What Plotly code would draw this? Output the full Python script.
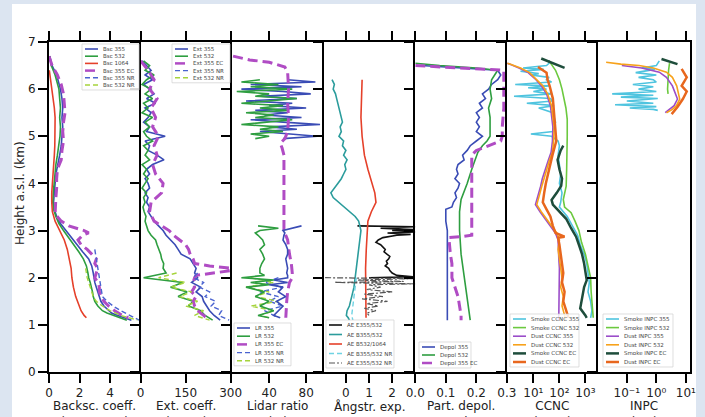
import plotly.graph_objects as go
from plotly.subplots import make_subplots

# ---------------- data (heights in km a.s.l., values in panel units) ----------------
# Panel 1: backscatter coefficient (Mm-1 sr-1)
BSC_H = [6.7, 6.5, 6.3, 6.1, 6.0, 5.8, 5.6, 5.4, 5.2, 5.0, 4.8, 4.6, 4.4, 4.2, 4.0, 3.8, 3.6, 3.45, 3.3, 3.15,
         3.0, 2.85, 2.7, 2.55, 2.4, 2.25, 2.1, 2.0, 1.9, 1.8, 1.7, 1.6, 1.5, 1.4, 1.3, 1.25, 1.2, 1.15, 1.1]
BSC355 = [0.05, 0.2, 0.5, 0.7, 0.75, 0.85, 0.9, 0.85, 0.9, 0.85, 0.8, 0.7, 0.55, 0.45, 0.4, 0.35, 0.3, 0.35, 0.5, 0.75,
          1.1, 1.45, 1.8, 2.2, 2.6, 2.8, 2.9, 2.95, 3.0, 3.1, 3.2, 3.3, 3.4, 3.6, 3.9, 4.1, 4.5, 4.9, 5.4]
BSC532 = [0.05, 0.15, 0.4, 0.6, 0.65, 0.7, 0.75, 0.7, 0.75, 0.72, 0.65, 0.55, 0.45, 0.38, 0.33, 0.28, 0.25, 0.3, 0.45, 0.65,
          0.95, 1.3, 1.6, 1.95, 2.25, 2.45, 2.55, 2.6, 2.7, 2.8, 2.85, 2.9, 3.0, 3.2, 3.5, 3.8, 4.2, 4.6, 5.1]
BSC1064_H = [6.4, 6.2, 6.0, 5.8, 5.6, 5.4, 5.2, 5.0, 4.8, 4.6, 4.4, 4.2, 4.0, 3.8, 3.6, 3.4, 3.2, 3.0, 2.8, 2.6,
             2.4, 2.2, 2.0, 1.8, 1.6, 1.4, 1.3, 1.2, 1.15]
BSC1064 = [0.02, 0.1, 0.2, 0.3, 0.35, 0.4, 0.4, 0.4, 0.38, 0.35, 0.3, 0.25, 0.2, 0.18, 0.18, 0.22, 0.4, 0.7, 1.0, 1.2,
           1.35, 1.45, 1.5, 1.6, 1.75, 1.95, 2.1, 2.3, 2.45]
BSCEC_H = [6.7, 6.5, 6.3, 6.1, 5.9, 5.7, 5.5, 5.3, 5.1, 4.9, 4.7, 4.5, 4.3, 4.1, 3.9, 3.7, 3.5, 3.35, 3.2, 3.1,
           3.0, 2.95, 2.9, 2.8, 2.7, 2.6, 2.5, 2.4, 2.3, 2.2, 2.1, 2.0, 1.9, 1.8, 1.7, 1.6, 1.5, 1.4, 1.3, 1.2, 1.15]
BSC355EC = [0.0, 0.2, 0.55, 0.8, 0.95, 1.0, 1.05, 0.95, 0.9, 0.95, 0.85, 0.8, 0.55, 0.5, 0.5, 0.45, 0.4, 0.4, 0.8, 1.3,
            2.3, 2.6, 2.2, 1.9, 2.1, 2.5, 2.8, 3.1, 3.0, 3.2, 3.1, 3.0, 3.2, 3.3, 3.3, 3.4, 3.6, 3.9, 4.3, 4.8, 5.2]
BSC355NR_H = [2.6, 2.4, 2.2, 2.0, 1.8, 1.6, 1.5, 1.4, 1.3, 1.2, 1.1]
BSC355NR = [3.0, 3.1, 3.2, 3.3, 3.4, 3.5, 3.8, 4.2, 4.7, 5.3, 5.9]
BSC532NR_H = [2.2, 2.0, 1.8, 1.6, 1.5, 1.4, 1.3, 1.2, 1.1]
BSC532NR = [2.4, 2.5, 2.7, 2.9, 3.1, 3.5, 4.0, 4.7, 5.8]

# Panel 2: extinction coefficient (Mm-1)
EXT_H = [6.6, 6.5, 6.4, 6.3, 6.2, 6.1, 6.0, 5.9, 5.8, 5.7, 5.6, 5.5, 5.4, 5.3, 5.2, 5.1, 5.0, 4.9, 4.8, 4.7,
         4.6, 4.5, 4.4, 4.3, 4.2, 4.1, 4.0, 3.9, 3.8, 3.7, 3.6, 3.5, 3.4, 3.3, 3.2, 3.1, 3.0, 2.9, 2.8, 2.7,
         2.6, 2.5, 2.4, 2.3, 2.2, 2.1, 2.0, 1.9, 1.8, 1.7, 1.6, 1.5, 1.4, 1.3, 1.2, 1.1]
EXT355 = [5, 20, 35, 15, 40, 10, 30, 45, 20, 50, 15, 35, 25, 10, 30, 20, 82, 15, 30, 25,
          55, 78, 40, 20, 30, 15, 25, 30, 15, 25, 20, 30, 25, 35, 45, 60, 75, 85, 100, 115,
          125, 135, 165, 175, 185, 180, 190, 170, 200, 185, 205, 210, 220, 230, 245, 265]
EXT532 = [10, 30, 15, 45, 20, 5, 35, 15, 40, 10, 25, 5, 40, 15, 30, 10, 20, 40, 10, 25,
          15, 30, 5, 20, 10, 25, 15, 5, 20, 10, 15, 8, 12, 18, 15, 20, 25, 35, 50, 55,
          62, 67, 70, 77, 75, 85, 10, 140, 100, 155, 125, 175, 160, 200, 215, 240]
EXTEC_H = [6.6, 6.4, 6.2, 6.0, 5.8, 5.6, 5.4, 5.2, 5.0, 4.8, 4.6, 4.4, 4.2, 4.0, 3.8, 3.6, 3.4, 3.2, 3.0, 2.9,
           2.8, 2.7, 2.6, 2.5, 2.4, 2.3, 2.25, 2.2, 2.15, 2.1, 2.05, 2.0, 1.9, 1.8, 1.7, 1.6, 1.5, 1.4, 1.3, 1.2, 1.15]
EXT355EC = [0, 25, 45, 30, 55, 35, 50, 40, 60, 45, 55, 40, 50, 75, 70, 35, 30, 45, 95, 110,
            130, 150, 160, 165, 175, 180, 230, 300, 300, 250, 185, 180, 175, 180, 170, 185, 175, 180, 190, 210, 220]
EXTNR_H = [2.1, 2.0, 1.9, 1.8, 1.7, 1.6, 1.5, 1.4, 1.3, 1.2, 1.1]
EXT355NR = [190, 175, 210, 195, 230, 215, 250, 235, 270, 260, 295]
EXT532NR = [120, 60, 150, 100, 170, 130, 190, 150, 210, 180, 230]

# Panel 3: lidar ratio (sr)
LRU_H = [6.2, 6.15, 6.1, 6.05, 6.0, 5.95, 5.9, 5.85, 5.8, 5.75, 5.7, 5.65, 5.6, 5.55, 5.5, 5.45, 5.4, 5.35, 5.3, 5.25,
         5.2, 5.15, 5.1, 5.05, 5.0, 4.95]
LR355U = [60, 90, 20, 75, 10, 55, 85, 30, 70, 15, 65, 40, 80, 25, 60, 35, 75, 20, 55, 95, 40, 70, 30, 60, 92, 55]
LR532U = [30, 10, 50, 20, 65, 5, 40, 25, 70, 35, 10, 55, 30, 60, 15, 45, 25, 65, 35, 10, 50, 30, 55, 20, 40, 25]
LRL_H = [3.1, 3.05, 3.0, 2.95, 2.9, 2.8, 2.7, 2.6, 2.5, 2.4, 2.3, 2.2, 2.1, 2.05, 2.0, 1.95, 1.9, 1.85, 1.8, 1.7,
         1.6, 1.5, 1.4, 1.3, 1.2, 1.15]
LR355L = [75, 65, 55, 57, 56, 55, 58, 60, 60, 58, 59, 60, 59, 60, 60, 45, 60, 40, 55, 50, 58, 48, 55, 50, 45, 52]
LR532L = [28, 50, 30, 25, 28, 33, 35, 30, 33, 35, 32, 30, 30, 35, 10, 45, 20, 40, 15, 35, 25, 40, 30, 45, 28, 40]
LREC_H = [6.7, 6.62, 6.57, 6.47, 6.36, 6.0, 5.7, 5.4, 5.1, 4.95, 4.85, 4.75, 4.6, 4.0, 3.5, 3.0, 2.9, 2.8, 2.5, 2.3,
          2.1, 2.0, 1.9, 1.7, 1.5, 1.3, 1.15]
LR355EC = [1, 19, 40, 57, 60, 61, 60, 61, 60, 57, 52, 54, 56, 56, 56, 56, 58, 60, 62, 64, 65, 65, 62, 60, 59, 58, 58]
LRNR_H = [2.0, 1.9, 1.8, 1.7, 1.6, 1.5, 1.4, 1.3, 1.2, 1.15]
LR355NR = [50, 35, 55, 30, 50, 40, 55, 35, 45, 50]
LR532NR = [20, 45, 15, 40, 25, 50, 20, 45, 30, 40]

# Panel 4: Angstrom exponents
AEE_H = [3.1, 3.08, 3.05, 3.02, 3.0, 2.97, 2.95, 2.92, 2.9, 2.85, 2.8, 2.75, 2.7, 2.65, 2.6, 2.55, 2.5, 2.45, 2.4, 2.35,
         2.3, 2.25, 2.2, 2.15, 2.1, 2.05, 2.02, 2.0]
AE_E355_532 = [0.5, 3.0, 1.5, 2.9, 2.0, 3.0, 1.8, 2.8, 2.2, 1.6, 1.4, 1.3, 1.5, 1.6, 1.7, 1.65, 1.8, 1.9, 1.85, 1.75,
               1.8, 1.7, 1.85, 1.9, 2.0, 2.2, 2.9, 1.0]
AEB_H = [6.2, 6.1, 6.0, 5.9, 5.8, 5.7, 5.6, 5.5, 5.4, 5.3, 5.2, 5.1, 5.0, 4.9, 4.8, 4.7, 4.6, 4.5, 4.4, 4.3,
         4.2, 4.1, 4.0, 3.9, 3.8, 3.7, 3.6, 3.5, 3.4, 3.3, 3.2, 3.1, 3.0, 2.8, 2.6, 2.4, 2.2, 2.0, 1.8, 1.6,
         1.4, 1.3, 1.2, 1.15, 1.1]
AE_B355_532 = [-0.6, -0.5, -0.55, -0.45, -0.4, -0.35, -0.3, -0.25, -0.2, -0.15, -0.25, -0.2, -0.3, -0.1, -0.15, 0.0,
               -0.1, 0.05, -0.05, 0.0, -0.1, -0.2, -0.35, -0.5, -0.65, -0.55, -0.3, -0.1, 0.2, 0.4,
               0.55, 0.6, 0.65, 0.6, 0.55, 0.5, 0.45, 0.42, 0.35, 0.25, 0.15, 0.05, 0.02, 0.1, 0.15]
AER_H = [6.2, 5.8, 5.4, 5.0, 4.6, 4.3, 4.0, 3.8, 3.6, 3.4, 3.2, 3.0, 2.6, 2.2, 1.8, 1.4, 1.15]
AE_B532_1064 = [0.7, 0.67, 0.65, 0.7, 0.8, 0.95, 1.15, 1.25, 1.3, 1.1, 0.95, 0.92, 0.88, 0.85, 0.85, 0.88, 0.87]
AEBNR_H = [2.0, 1.8, 1.6, 1.4, 1.2, 1.1]
AE_B355_532_NR = [0.45, 0.4, 0.35, 0.3, 0.25, 0.3]
AEENR_H = [2.0, 1.98, 1.95, 1.92, 1.9, 1.87, 1.85, 1.8, 1.75, 1.7, 1.65, 1.6, 1.55, 1.5, 1.45, 1.4, 1.35, 1.3, 1.25, 1.2]
AE_E355_532_NR = [-0.9, 2.9, 0.5, 2.5, -0.5, 3.0, 1.0, 1.5, 0.9, 2.0, 0.8, 1.6, 0.7, 1.8, 0.9, 1.4, 0.8, 1.3, 0.9, 1.0]

# Panel 5: particle depolarization ratio
DEP355_H = [6.5, 6.45, 6.4, 6.3, 6.2, 6.1, 6.0, 5.9, 5.8, 5.7, 5.6, 5.5, 5.4, 5.3, 5.2, 5.1, 5.0, 4.9, 4.8, 4.7,
            4.6, 4.5, 4.4, 4.3, 4.2, 4.1, 4.0, 3.9, 3.8, 3.7, 3.6, 3.5, 3.45, 3.4, 3.2, 3.0, 2.5, 2.0, 1.5, 1.1]
DEP355 = [0.02, 0.15, 0.27, 0.28, 0.27, 0.25, 0.24, 0.22, 0.23, 0.21, 0.22, 0.2, 0.21, 0.2, 0.21, 0.2, 0.22, 0.2, 0.18, 0.17,
          0.155, 0.16, 0.14, 0.135, 0.14, 0.13, 0.145, 0.14, 0.13, 0.135, 0.125, 0.12, 0.1, 0.1, 0.1, 0.105, 0.105, 0.105,
          0.103, 0.105]
DEP532_H = [6.55, 6.5, 6.45, 6.4, 6.3, 6.2, 6.0, 5.8, 5.6, 5.4, 5.2, 5.0, 4.9, 4.8, 4.66, 4.5, 4.3, 4.0, 3.66, 3.4,
            3.0, 2.5, 2.0, 1.6, 1.2, 1.1]
DEP532 = [0.0, 0.08, 0.2, 0.27, 0.26, 0.25, 0.245, 0.25, 0.24, 0.245, 0.245, 0.245, 0.235, 0.22, 0.205, 0.195, 0.185,
          0.17, 0.15, 0.145, 0.145, 0.15, 0.16, 0.17, 0.178, 0.18]
DEPEC_H = [6.5, 6.45, 6.4, 6.0, 5.6, 5.2, 5.0, 4.9, 4.85, 4.8, 4.7, 4.6, 4.0, 3.5, 2.9, 2.87, 2.85, 2.5, 2.3, 2.0,
           1.8, 1.6, 1.4, 1.2, 1.1]
DEP355EC = [0.0, 0.15, 0.29, 0.29, 0.29, 0.285, 0.285, 0.28, 0.26, 0.24, 0.2, 0.185, 0.185, 0.185, 0.185, 0.15, 0.11,
            0.115, 0.12, 0.12, 0.13, 0.14, 0.145, 0.15, 0.15]

# Panel 6: CCNC (cm-3)
SC355_H = [6.62, 6.55, 6.5, 6.45, 6.42, 6.38, 6.33, 6.3, 6.25, 6.2, 6.15, 6.1, 6.07, 6.03, 6.0, 5.95, 5.9, 5.85, 5.8, 5.75,
           5.7, 5.65, 5.6, 5.5, 5.4, 5.3, 5.2, 5.1, 5.05, 5.0, 4.9, 4.8, 4.6, 4.4, 4.2, 4.0, 3.8, 3.6, 3.5, 3.3,
           3.1, 2.9, 2.7, 2.5, 2.3, 2.1, 1.9, 1.7, 1.5, 1.3, 1.15]
SMOKE_CCNC_355 = [40, 40, 32, 4, 25, 3.2, 16, 8, 40, 32, 50, 2, 40, 6.3, 32, 10, 50, 1.8, 45, 56,
                  5.6, 63, 16, 56, 63, 71, 63, 56, 8, 50, 89, 100, 89, 100, 112, 100, 126, 112, 100, 200,
                  316, 501, 631, 891, 1122, 1259, 1413, 1259, 1585, 1778, 1585]
SC532_H = [6.6, 6.4, 6.2, 6.0, 5.6, 5.36, 5.0, 4.66, 4.3, 3.94, 3.66, 3.5, 3.38, 3.2, 3.0, 2.75, 2.5, 2.25, 2.0, 1.7,
           1.45, 1.15]
SMOKE_CCNC_532 = [40, 71, 100, 126, 178, 200, 200, 200, 190, 182, 141, 158, 282, 398, 562, 708, 1000, 1259, 1585, 1660,
                  1778, 1995]
DC_H = [6.55, 6.45, 6.35, 6.2, 6.07, 5.9, 5.65, 5.4, 5.2, 4.9, 4.66, 4.5, 4.3, 4.1, 3.94, 3.8, 3.66, 3.55, 3.4, 3.25,
        3.1, 2.95, 2.8, 2.6, 2.4, 2.2, 2.0, 1.8, 1.6, 1.4, 1.2, 1.1]
DUST_CCNC_355 = [1, 2.8, 6.3, 12.6, 20, 32, 45, 50, 56, 54, 48, 38, 28, 22, 19, 16, 13.5, 12, 18, 28,
                 45, 70, 89, 89, 95, 100, 100, 95, 100, 100, 95, 89]
DUST_CCNC_532 = [1, 3.2, 7.1, 14, 23, 35, 50, 56, 63, 60, 54, 42, 32, 25, 21, 18, 15, 13.5, 20, 32,
                 50, 79, 100, 89, 100, 112, 126, 112, 141, 126, 158, 178]
SCEC_H = [6.65, 6.45, 4.9, 4.8, 4.7, 4.5, 4.3, 4.1, 3.95, 3.8, 3.65, 3.55, 3.4, 3.25, 3.05, 2.87, 2.7, 2.5, 2.3, 2.1,
          1.95, 1.8, 1.65, 1.5, 1.35, 1.2, 1.15]
SMOKE_CCNC_EC = [20, 158, None, 141, 112, 85, 100, 126, 117, 79, 50, 56, 100, 182, 282, 437, 562, 741, 891, 1000,
                 1122, 891, 794, 741, 631, 1000, 1122]
DCEC_H = [6.47, 6.35, 6.2, 6.07, 5.8, 5.5, 5.2, 4.9, 4.6, 4.3, 4.0, 3.8, 3.6, 3.45, 3.3, 3.1, 2.95, 2.87, 2.85, 2.7,
          2.5, 2.3, 2.1, 1.9, 1.7, 1.5, 1.3, 1.15]
DUST_CCNC_EC = [15, 32, 35, 42, 56, 63, 71, 76, 54, 40, 30, 26, 23, 32, 45, 56, 71, 158, 89, 100,
                112, 126, 141, 126, 158, 141, 178, 224]

# Panel 7: INPC (L-1)
SI355_H = [6.6, 6.5, 6.45, 6.42, 6.35, 6.3, 6.25, 6.2, 6.15, 6.1, 6.05, 6.0, 5.95, 5.9, 5.87, 5.83, 5.8, 5.75, 5.7, 5.67,
           5.63, 5.6, 5.57, 5.55]
SMOKE_INPC_355 = [1.26, 1.0, 0.32, 0.89, 0.2, 1.0, 0.25, 0.79, 1.0, 0.16, 0.79, 0.25, 1.0, 0.032, 0.79, 0.063, 1.12, 0.1,
                  0.79, 0.04, 1.0, 0.126, 0.79, 1.12]
SI532_H = [6.55, 6.4, 6.2, 6.0, 5.9]
SMOKE_INPC_532 = [2.8, 2.6, 2.5, 2.4, 2.5]
DI355_H = [6.5, 6.45, 6.36, 6.25, 6.07, 5.9, 5.79, 5.65, 5.57, 5.5]
DUST_INPC_355 = [0.068, 0.32, 1.26, 2.2, 3.5, 4.5, 5.2, 4.0, 2.8, 2.0]
DI532_H = [6.57, 6.53, 6.5, 6.45, 6.36, 6.25, 6.07, 5.9, 5.79, 5.65, 5.57, 5.5]
DUST_INPC_532 = [0.02, 0.063, 0.26, 0.79, 2.2, 3.5, 4.9, 5.6, 6.2, 4.8, 3.5, 2.2]
SIEC_H = [6.64, 6.53]
SMOKE_INPC_EC = [1.5, 5.2]
DIEC_H = [6.43, 6.25, 6.07, 5.95, 5.79, 5.62, 5.47]
DUST_INPC_EC = [7.2, 10.7, 7.2, 10.7, 7.9, 5.2, 3.3]

# ---------------- styles ----------------
STYLE = {
    "blue": dict(color="#3a4cb5", width=1.6),
    "green": dict(color="#2e9e40", width=1.6),
    "red": dict(color="#e5402a", width=1.6),
    "ec": dict(color="#b04cc4", width=3, dash="10px,5px"),
    "bnr": dict(color="#4a63d0", width=1.4, dash="5px,3px"),
    "gnr": dict(color="#a6d43c", width=1.4, dash="5px,3px"),
    "black": dict(color="#111111", width=1.6),
    "teal": dict(color="#2b9c9c", width=1.6),
    "cnr": dict(color="#6fd3e3", width=1.4, dash="5px,3px"),
    "knr": dict(color="#555555", width=1.2, dash="6px,2px,2px,2px"),
    "sc": dict(color="#4fc4df", width=1.6),
    "sg": dict(color="#6cc93f", width=1.6),
    "dp": dict(color="#9b4dc9", width=1.6),
    "do": dict(color="#f7a21b", width=1.6),
    "sec": dict(color="#1e4d3b", width=2.5),
    "dec": dict(color="#e8671e", width=2.5),
}

# (panel, legend label, heights, values, style, in legend)
SERIES = [
    (1, "Bsc 355", BSC_H, BSC355, "blue", True),
    (1, "Bsc 532", BSC_H, BSC532, "green", True),
    (1, "Bsc 1064", BSC1064_H, BSC1064, "red", True),
    (1, "Bsc 355 EC", BSCEC_H, BSC355EC, "ec", True),
    (1, "Bsc 355 NR", BSC355NR_H, BSC355NR, "bnr", True),
    (1, "Bsc 532 NR", BSC532NR_H, BSC532NR, "gnr", True),
    (2, "Ext 355", EXT_H, EXT355, "blue", True),
    (2, "Ext 532", EXT_H, EXT532, "green", True),
    (2, "Ext 355 EC", EXTEC_H, EXT355EC, "ec", True),
    (2, "Ext 355 NR", EXTNR_H, EXT355NR, "bnr", True),
    (2, "Ext 532 NR", EXTNR_H, EXT532NR, "gnr", True),
    (3, "LR 355", LRU_H, LR355U, "blue", True),
    (3, "LR 532", LRU_H, LR532U, "green", True),
    (3, "LR 355 EC", LREC_H, LR355EC, "ec", True),
    (3, "LR 355 NR", LRNR_H, LR355NR, "bnr", True),
    (3, "LR 532 NR", LRNR_H, LR532NR, "gnr", True),
    (3, "LR 355 low", LRL_H, LR355L, "blue", False),
    (3, "LR 532 low", LRL_H, LR532L, "green", False),
    (4, "AE E355/532", AEE_H, AE_E355_532, "black", True),
    (4, "AE B355/532", AEB_H, AE_B355_532, "teal", True),
    (4, "AE B532/1064", AER_H, AE_B532_1064, "red", True),
    (4, "AE B355/532 NR", AEBNR_H, AE_B355_532_NR, "cnr", True),
    (4, "AE E355/532 NR", AEENR_H, AE_E355_532_NR, "knr", True),
    (5, "Depol 355", DEP355_H, DEP355, "blue", True),
    (5, "Depol 532", DEP532_H, DEP532, "green", True),
    (5, "Depol 355 EC", DEPEC_H, DEP355EC, "ec", True),
    (6, "Smoke CCNC 355", SC355_H, SMOKE_CCNC_355, "sc", True),
    (6, "Smoke CCNC 532", SC532_H, SMOKE_CCNC_532, "sg", True),
    (6, "Dust CCNC 355", DC_H, DUST_CCNC_355, "dp", True),
    (6, "Dust CCNC 532", DC_H, DUST_CCNC_532, "do", True),
    (6, "Smoke CCNC EC", SCEC_H, SMOKE_CCNC_EC, "sec", True),
    (6, "Dust CCNC EC", DCEC_H, DUST_CCNC_EC, "dec", True),
    (7, "Smoke INPC 355", SI355_H, SMOKE_INPC_355, "sc", True),
    (7, "Smoke INPC 532", SI532_H, SMOKE_INPC_532, "sg", True),
    (7, "Dust INPC 355", DI355_H, DUST_INPC_355, "dp", True),
    (7, "Dust INPC 532", DI532_H, DUST_INPC_532, "do", True),
    (7, "Smoke INPC EC", SIEC_H, SMOKE_INPC_EC, "sec", True),
    (7, "Dust INPC EC", DIEC_H, DUST_INPC_EC, "dec", True),
]

XAXES = {
    1: dict(range=[0, 6], tickvals=[0, 2, 4], ticktext=["0", "2", "4"],
            title="Backsc. coeff.<br>(Mm⁻¹ sr⁻¹)"),
    2: dict(range=[0, 305], tickvals=[0, 150, 300], ticktext=["0", "150", "300"],
            title="Ext. coeff.<br>(Mm⁻¹)"),
    3: dict(range=[0, 99], tickvals=[40, 80], ticktext=["40", "80"], title="Lidar ratio<br>(sr)"),
    4: dict(range=[-0.96, 3.0], tickvals=[0, 1, 2], ticktext=["0", "1", "2"], title="Ångstr. exp."),
    5: dict(range=[0, 0.3], tickvals=[0, 0.1, 0.2, 0.3], ticktext=["0.0", "0.1", "0.2", "0.3"],
            title="Part. depol.<br>ratio"),
    6: dict(type="log", range=[-0.02, 3.5], tickvals=[10, 100, 1000],
            ticktext=["10¹", "10²", "10³"], title="CCNC<br>(cm⁻³)"),
    7: dict(type="log", range=[-1.96, 1.14], tickvals=[0.1, 1, 10],
            ticktext=["10⁻¹", "10⁰", "10¹"], title="INPC<br>(L⁻¹)"),
}
HEIGHT_TICKS = [0, 1, 2, 3, 4, 5, 6, 7]
HEIGHT_LABEL = "Height a.s.l. (km)"

# legend boxes (pixel layout): left, top, width, row spacing
LEGEND_BOX = {1: (82, 44, 57, 7.2), 2: (172, 44, 58, 7.2), 3: (234, 323, 57, 8.2), 4: (326, 320, 68, 9.5),
              5: (419, 342, 52, 8.0), 6: (510, 314, 69, 8.6), 7: (603, 314, 70, 8.6)}

# ---------------- figure ----------------
W, H = 705, 417
PL, PR, PT, PB = 49, 690, 42, 372
FONT = "DejaVu Sans"

fig = make_subplots(rows=1, cols=7, horizontal_spacing=0)

for p, label, hh, vv, sk, _ in SERIES:
    if len(hh) != len(vv):
        raise ValueError(f"length mismatch in {label}: {len(hh)} vs {len(vv)}")
    fig.add_trace(go.Scatter(x=vv, y=hh, mode="lines", name=label, line=STYLE[sk],
                             showlegend=False, connectgaps=False, hoverinfo="skip"), row=1, col=p)


def px_x(px):
    return (px - PL) / (PR - PL)


def px_y(py):
    return (PB - py) / (PB - PT)


annotations = []
for i in range(1, 8):
    cfg = XAXES[i]
    fig.update_xaxes(row=1, col=i, type=cfg.get("type", "linear"), range=cfg["range"],
                     tickmode="array", tickvals=cfg["tickvals"], ticktext=cfg["ticktext"],
                     showline=True, linecolor="black", linewidth=2, mirror="ticks",
                     ticks="outside", ticklen=9, tickwidth=2, tickcolor="black",
                     tickfont=dict(family=FONT, size=12, color="#222"),
                     showgrid=False, zeroline=False, automargin=False)
    fig.update_yaxes(row=1, col=i, range=[0, 7], tickmode="array", tickvals=HEIGHT_TICKS,
                     showline=True, linecolor="black", linewidth=2, mirror=(i == 7),
                     ticks="outside", ticklen=9, tickwidth=2, tickcolor="black",
                     showticklabels=(i == 1), tickfont=dict(family=FONT, size=12, color="#222"),
                     showgrid=False, zeroline=False, automargin=False)
    # axis title below tick labels (runs past the bottom edge as in the reference)
    annotations.append(dict(xref="paper", yref="paper", x=(i - 0.5) / 7, y=px_y(397.5), text=cfg["title"],
                            showarrow=False, xanchor="center", yanchor="top",
                            font=dict(family=FONT, size=12, color="#222")))

annotations.append(dict(xref="paper", yref="paper", x=px_x(20), y=px_y(193), text=HEIGHT_LABEL,
                        textangle=-90, showarrow=False, xanchor="center", yanchor="middle",
                        font=dict(family=FONT, size=12, color="#222")))

shapes = [dict(type="rect", xref="paper", yref="paper", x0=px_x(12), x1=px_x(696), y0=px_y(430), y1=px_y(4),
               fillcolor="white", line=dict(width=0), layer="below")]
for p, (lx, ty, bw, sp) in LEGEND_BOX.items():
    entries = [s for s in SERIES if s[0] == p and s[5]]
    n = len(entries)
    shapes.append(dict(type="rect", xref="paper", yref="paper", x0=px_x(lx), x1=px_x(lx + bw),
                       y0=px_y(ty + 5 + sp * (n - 1) + 5), y1=px_y(ty),
                       fillcolor="rgba(255,255,255,0.85)", line=dict(color="#d0d0d0", width=0.7), layer="above"))
    for k, (_, label, _, _, sk, _) in enumerate(entries):
        yy = ty + 5 + sp * k
        st = STYLE[sk]
        ln = dict(color=st["color"], width=min(st["width"], 2.5))
        if "dash" in st:
            ln["dash"] = st["dash"]
        shapes.append(dict(type="line", xref="paper", yref="paper", x0=px_x(lx + 3), x1=px_x(lx + 16),
                           y0=px_y(yy), y1=px_y(yy), line=ln, layer="above"))
        annotations.append(dict(xref="paper", yref="paper", x=px_x(lx + 19), y=px_y(yy), text=label,
                                showarrow=False, xanchor="left", yanchor="middle",
                                font=dict(family=FONT, size=5.5, color="#444")))

fig.update_layout(width=W, height=H, margin=dict(l=PL, r=W - PR, t=PT, b=H - PB),
                  paper_bgcolor="#dce5f1", plot_bgcolor="white", showlegend=False,
                  font=dict(family=FONT, color="#222"), shapes=shapes, annotations=annotations)

fig.write_html("out.html", config={"displayModeBar": False},
               post_script="document.body.style.margin='0px';document.body.style.padding='0px';")
